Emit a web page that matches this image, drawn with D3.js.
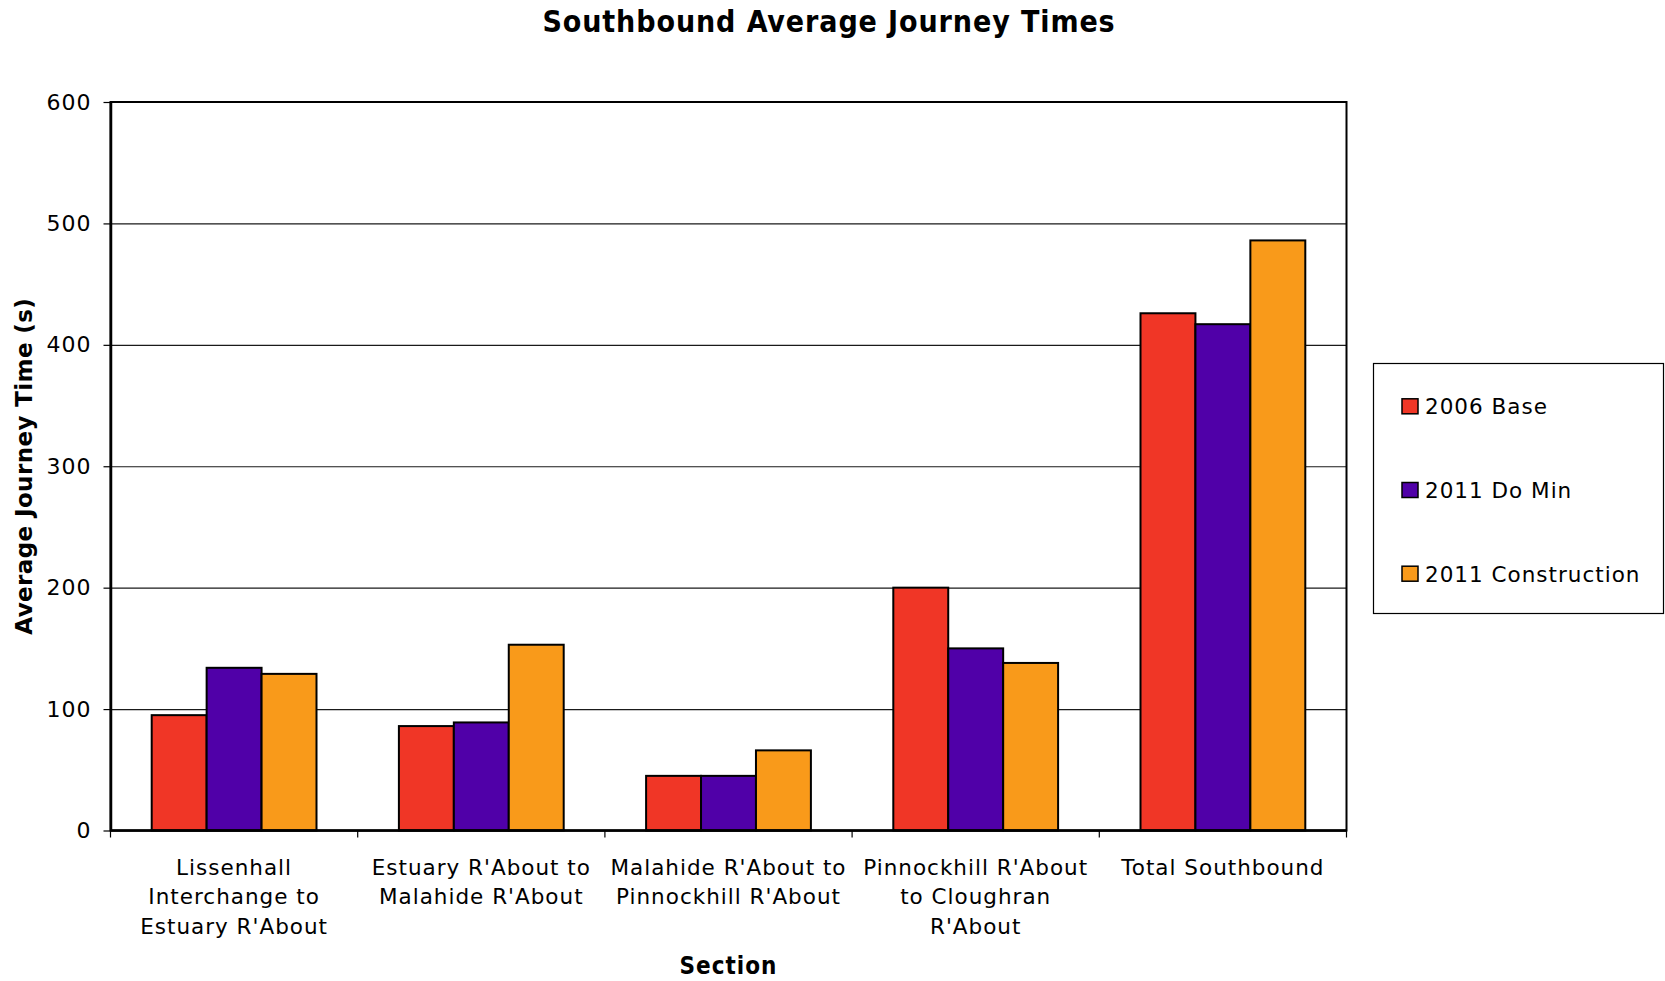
<!DOCTYPE html>
<html>
<head>
<meta charset="utf-8">
<script src="https://cdn.jsdelivr.net/npm/d3@7"></script>
<style>
    body { margin: 0; background: #fff; }
    svg { display: block; }
    .plain { font-family: Verdana, 'DejaVu Sans', sans-serif; letter-spacing: 1px; }
    .narrow { font-family: Tahoma, 'DejaVu Sans Condensed', 'DejaVu Sans', sans-serif; font-stretch: condensed; font-weight: bold; }
</style>
</head>
<body>
<div id="chart"></div>
<script>
// data
const categories = [
    "Lissenhall Interchange to Estuary R'About",
    "Estuary R'About to Malahide R'About",
    "Malahide R'About to Pinnockhill R'About",
    "Pinnockhill R'About to Cloughran R'About",
    "Total Southbound"
];
const categoryLines = [
    ["Lissenhall", "Interchange to", "Estuary R'About"],
    ["Estuary R'About to", "Malahide R'About"],
    ["Malahide R'About to", "Pinnockhill R'About"],
    ["Pinnockhill R'About", "to Cloughran", "R'About"],
    ["Total Southbound"]
];
const seriesNames = ['2006 Base', '2011 Do Min', '2011 Construction'];
const base2006 = [95, 86, 45, 200, 426];
const doMin2011 = [134, 89, 45, 150, 417];
const construction2011 = [129, 153, 66, 138, 486];
const yTicks = [0, 100, 200, 300, 400, 500, 600];

const seriesValues = [base2006, doMin2011, construction2011];
const colors = ['#F03626', '#5000A8', '#F99A1A'];

let w = 1665,
    h = 981,
    mLeft = 110.5,
    mRight = 1346.5,
    mTop = 102,
    mBottom = 830.5;

let svg = d3.select('#chart')
    .append('svg')
        .attr('width', w)
        .attr('height', h);

// table built from the arrays
let rows = [];
categories.forEach((c, i) => {
    seriesNames.forEach((s, j) => {
        rows.push({cat: c, series: s, value: seriesValues[j][i], color: colors[j]});
    });
});

const x0 = d3.scaleBand()
    .domain(categories)
    .range([mLeft, mRight])
    .paddingInner(0)
    .paddingOuter(0);

const x1 = d3.scaleBand()
    .domain(seriesNames)
    .range([0, x0.bandwidth()])
    .paddingInner(0)
    .paddingOuter(0.75);

const y = d3.scaleLinear()
    .domain([0, 600])
    .range([mBottom, mTop]);

// gridlines
svg.append('g')
    .attr('transform', `translate(${mLeft},0)`)
    .call(d3.axisLeft(y).tickValues(yTicks).tickSize(-(mRight - mLeft)).tickFormat(''))
    .call(g => g.select('.domain').remove())
    .selectAll('line')
        .attr('stroke', '#1a1a1a')
        .attr('stroke-width', 1.2);

// bars
svg.selectAll('rect.bar')
    .data(rows).enter()
    .append('rect')
    .attr('class', 'bar')
    .attr('x', d => x0(d.cat) + x1(d.series))
    .attr('y', d => y(d.value))
    .attr('width', x1.bandwidth())
    .attr('height', d => y(0) - y(d.value))
    .attr('fill', d => d.color)
    .attr('stroke', '#000')
    .attr('stroke-width', 2);

// plot border (top / right)
svg.append('rect')
    .attr('x', mLeft)
    .attr('y', mTop)
    .attr('width', mRight - mLeft)
    .attr('height', mBottom - mTop)
    .attr('fill', 'none')
    .attr('stroke', '#000')
    .attr('stroke-width', 2);

// y axis
svg.append('g')
    .attr('class', 'plain')
    .attr('transform', `translate(${mLeft},0)`)
    .call(d3.axisLeft(y).tickValues(yTicks).tickSize(7).tickPadding(12).tickSizeOuter(0))
    .call(g => g.select('.domain').attr('stroke', '#000').attr('stroke-width', 2.5))
    .call(g => g.selectAll('line').attr('stroke', '#000').attr('stroke-width', 1.2))
    .call(g => g.selectAll('text')
        .attr('font-size', '22px')
        .attr('font-family', "Verdana, 'DejaVu Sans', sans-serif")
        .attr('fill', '#000'));

// x axis: ticks on category boundaries
let boundaries = categories.map(c => x0(c)).concat([x0.range()[1]]);
svg.append('line')
    .attr('x1', mLeft).attr('x2', mRight)
    .attr('y1', y(0)).attr('y2', y(0))
    .attr('stroke', '#000')
    .attr('stroke-width', 2.5);
svg.selectAll('line.xtick')
    .data(boundaries).enter()
    .append('line')
    .attr('class', 'xtick')
    .attr('x1', d => d).attr('x2', d => d)
    .attr('y1', y(0)).attr('y2', y(0) + 7)
    .attr('stroke', '#000')
    .attr('stroke-width', 1.2);

let xLabels = svg.append('g').attr('class', 'plain');
categories.forEach((c, i) => {
    let t = xLabels.append('text')
        .attr('x', x0(c) + x0.bandwidth() / 2)
        .attr('y', y(0) + 44)
        .attr('text-anchor', 'middle')
        .attr('font-size', '21.5px')
        .attr('fill', '#000');
    categoryLines[i].forEach((line, k) => {
        t.append('tspan')
            .attr('x', x0(c) + x0.bandwidth() / 2)
            .attr('dy', k === 0 ? 0 : 29.5)
            .text(line);
    });
});

// titles
svg.append('text')
    .attr('class', 'narrow')
    .attr('x', 829)
    .attr('y', 32)
    .attr('text-anchor', 'middle')
    .attr('font-size', '30px')
    .style('letter-spacing', '0.9px')
    .text('Southbound Average Journey Times');

svg.append('text')
    .attr('class', 'narrow')
    .attr('x', (mLeft + mRight) / 2)
    .attr('y', 974)
    .attr('text-anchor', 'middle')
    .attr('font-size', '24px')
    .style('letter-spacing', '1px')
    .text('Section');

svg.append('text')
    .attr('transform', `translate(32, ${(mTop + mBottom) / 2}) rotate(-90)`)
    .attr('text-anchor', 'middle')
    .attr('font-family', "Verdana, 'DejaVu Sans', sans-serif")
    .attr('font-size', '23px')
    .attr('font-weight', 'bold')
    .style('letter-spacing', '0.4px')
    .text('Average Journey Time (s)');

// legend
let legend = svg.append('g').attr('class', 'plain');
legend.append('rect')
    .attr('x', 1373.5)
    .attr('y', 363.5)
    .attr('width', 290)
    .attr('height', 250)
    .attr('fill', '#fff')
    .attr('stroke', '#000')
    .attr('stroke-width', 1.2);

let ly = d3.scalePoint()
    .domain(seriesNames)
    .range([414.3, 581.7]);

seriesNames.forEach((s, j) => {
    legend.append('rect')
        .attr('x', 1402)
        .attr('y', ly(s) - 15.5)
        .attr('width', 16)
        .attr('height', 15)
        .attr('fill', colors[j])
        .attr('stroke', '#000')
        .attr('stroke-width', 1.5);
    legend.append('text')
        .attr('x', 1425)
        .attr('y', ly(s))
        .attr('font-size', '21.5px')
        .attr('fill', '#000')
        .text(s);
});
</script>
</body>
</html>
